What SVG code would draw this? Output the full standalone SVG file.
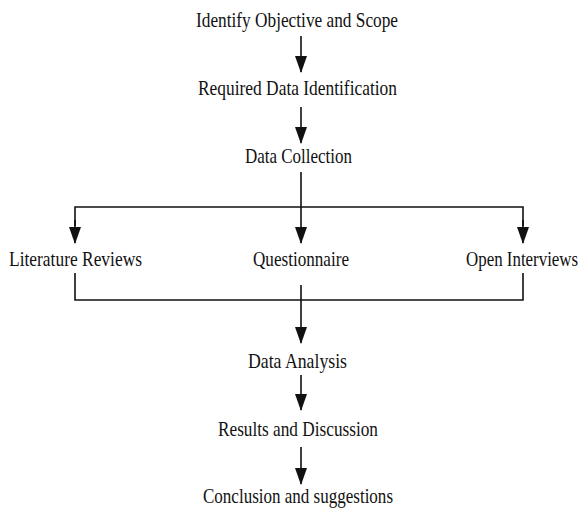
<svg xmlns="http://www.w3.org/2000/svg" width="584" height="512" viewBox="0 0 584 512">
<style>
  text { font-family: "Liberation Serif", "Times New Roman", serif; font-size: 21px; fill: #111; }
  .c { fill: none; stroke: #111; stroke-width: 1.6; }
</style>
<defs>
  <marker id="ah" viewBox="0 0 17 12" refX="16" refY="6" markerWidth="17" markerHeight="12" markerUnits="userSpaceOnUse" orient="auto">
    <path d="M0,0 L17,6 L0,12 z" fill="#111"/>
  </marker>
</defs>
<rect width="584" height="512" fill="#fff"/>
<g id="connectors">
  <line class="c" x1="301" y1="36" x2="301" y2="72" marker-end="url(#ah)"/>
  <line class="c" x1="301" y1="107" x2="301" y2="143" marker-end="url(#ah)"/>
  <line class="c" x1="301" y1="172" x2="301" y2="243" marker-end="url(#ah)"/>
  <polyline class="c" points="75,226 75,207 523,207 523,226"/>
  <line class="c" x1="75" y1="220" x2="75" y2="243" marker-end="url(#ah)"/>
  <line class="c" x1="523" y1="220" x2="523" y2="243" marker-end="url(#ah)"/>
  <polyline class="c" points="75,273 75,300 523,300 523,273"/>
  <line class="c" x1="301" y1="285" x2="301" y2="343" marker-end="url(#ah)"/>
  <line class="c" x1="301" y1="375" x2="301" y2="410" marker-end="url(#ah)"/>
  <line class="c" x1="301" y1="447" x2="301" y2="484" marker-end="url(#ah)"/>
</g>
<g id="identify"><text x="196" y="27" textLength="202" lengthAdjust="spacingAndGlyphs">Identify Objective and Scope</text></g>
<g id="required"><text x="198" y="95" textLength="199" lengthAdjust="spacingAndGlyphs">Required Data Identification</text></g>
<g id="collection"><text x="245" y="163" textLength="107" lengthAdjust="spacingAndGlyphs">Data Collection</text></g>
<g id="literature"><text x="9" y="266" textLength="133" lengthAdjust="spacingAndGlyphs">Literature Reviews</text></g>
<g id="questionnaire"><text x="253" y="266" textLength="96" lengthAdjust="spacingAndGlyphs">Questionnaire</text></g>
<g id="interviews"><text x="0" y="0" transform="translate(466,266) scale(0.805,1)">Open Interviews</text></g>
<g id="analysis"><text x="248" y="368" textLength="99" lengthAdjust="spacingAndGlyphs">Data Analysis</text></g>
<g id="results"><text x="218" y="436" textLength="160" lengthAdjust="spacingAndGlyphs">Results and Discussion</text></g>
<g id="conclusion"><text x="203" y="503" textLength="190" lengthAdjust="spacingAndGlyphs">Conclusion and suggestions</text></g>
</svg>
